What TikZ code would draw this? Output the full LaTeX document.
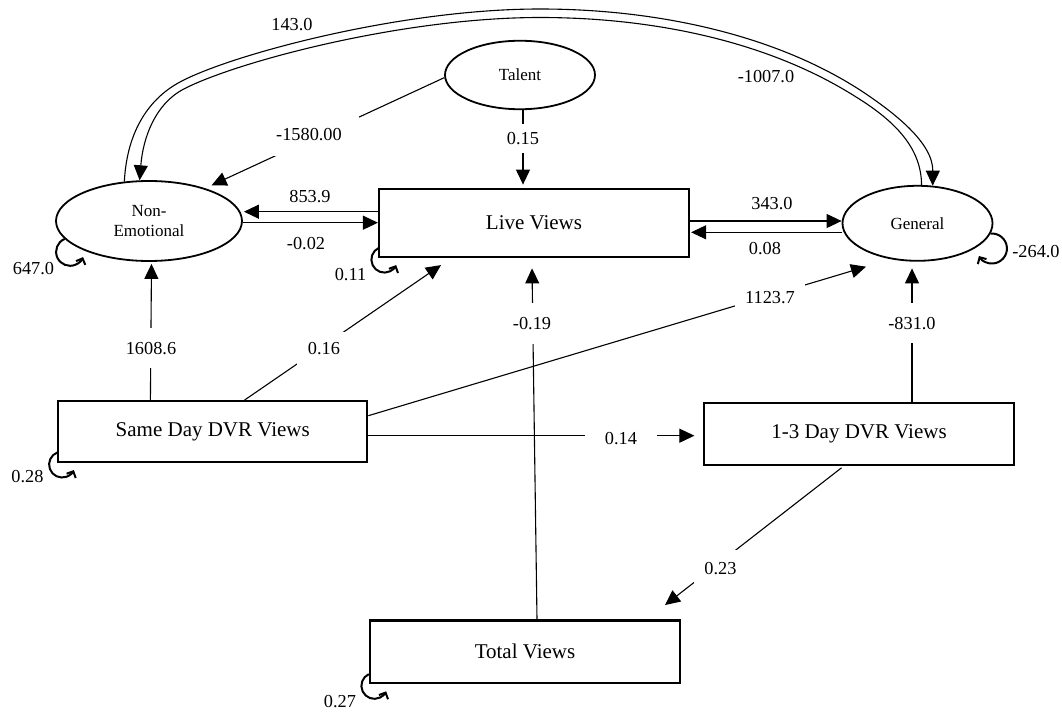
\documentclass[tikz,border=0pt]{standalone}
\usepackage{fontspec}
\setmainfont{Liberation Serif}
\usetikzlibrary{arrows.meta,shapes.geometric,calc}
\begin{document}
\begin{tikzpicture}[x=1pt,y=-1pt,
  box/.style={draw,line width=2.2pt,inner sep=0pt,font=\fontsize{21}{25}\selectfont},
  lat/.style={draw,ellipse,line width=1.8pt,inner sep=0pt,align=center,font=\fontsize{17}{20}\selectfont},
  arr/.style={line width=1.1pt,-{Triangle[length=15pt,width=14pt]}},
  lbl/.style={font=\fontsize{18.3}{22}\selectfont,inner sep=0pt},
  gap/.style={lbl,fill=white,inner xsep=10pt,inner ysep=12pt},
  selfloop/.style={line width=2pt,-{Straight Barb[length=5pt,width=10pt]}}
]
\useasboundingbox (0,0) rectangle (1062,719);

% nodes
\node[lat,minimum width=150pt,minimum height=68.5pt] (talent) at (520,75) {Talent};
\node[lat,minimum width=186pt,minimum height=80pt] (nonemo) at (149,221) {Non-\\Emotional};
\node[lat,minimum width=150pt,minimum height=75pt] (general) at (917.5,223.3) {General};
\node[box,minimum width=310pt,minimum height=68pt] (live) at (534,222.7) {Live Views};
\node[box,minimum width=309pt,minimum height=61pt] (same) at (212.75,431.7) {Same Day DVR Views};
\node[box,minimum width=310pt,minimum height=62pt] (t13) at (859,433.7) {1-3 Day DVR Views};
\node[box,minimum width=310pt,minimum height=62.5pt] (total) at (525,651.7) {Total Views};

% covariance curves
\draw[arr] (nonemo.122) .. controls (127,130) and (150,98) .. (180,82)
  .. controls (230,55) and (400,9) .. (540,9)
  .. controls (650,9) and (770,32) .. (860,90)
  .. controls (895,113) and (933,143) .. (general.68);
\draw[arr] (general.84) .. controls (921.5,145) and (890,118) .. (855.6,96.7)
  .. controls (766,40) and (650,17.5) .. (540,17.5)
  .. controls (402,17.5) and (236,62) .. (183.8,89)
  .. controls (155,104) and (143,138) .. (nonemo.103);

% paths
\draw[arr] (talent.182.5) -- ($(nonemo.30)+(6,-3)$);
\draw[arr] ($(talent.south)+(3,0)$) -- ($(live.north)+(-11,-3)$);
\draw[arr] ($(live.west)+(0,-11)$) -- ($(nonemo.east)+(1,-9.3)$);
\draw[arr] ($(nonemo.east)+(0,1.7)$) -- (live.west);
\draw[arr] ($(live.east)+(0,-1.7)$) -- ($(general.west)+(0,-2.3)$);
\draw[arr] ($(general.west)+(0,9)$) -- ($(live.east)+(1,9.6)$);
\draw[arr] ($(same.north west)+(93.25,0)$) -- ($(nonemo.south)+(2.5,2)$);
\draw[arr] ($(same.north)+(31.75,0)$) -- ($(live.south)+(-93,7.3)$);
\draw[arr] ($(total.north)+(12,0)$) -- ($(live.south)+(-2,10.6)$);
\draw[arr] ($(t13.north)+(53,0)$) -- ($(general.south)+(-5.5,6.7)$);
\draw[arr] ($(same.east)+(0,-16)$) -- ($(general.south)+(-51.5,5)$);
\draw[arr] ($(same.east)+(0,4)$) -- ($(t13.west)+(-8.5,2)$);
\draw[arr] ($(t13.south)+(-17.5,2)$) -- ($(total.north)+(140,-14.3)$);

% self loops
\draw[selfloop] (nonemo.192) arc[start angle=247,end angle=22,radius=14];
\draw[selfloop] ($(live.south west)+(1,-10)$) arc[start angle=245,end angle=25,radius=13];
\draw[selfloop] ($(same.south west)+(0.5,-11)$) arc[start angle=250,end angle=25,radius=13];
\draw[selfloop] ($(total.south west)+(0,-10)$) arc[start angle=245,end angle=25,radius=13];
\draw[selfloop] (general.352) arc[start angle=265,end angle=510,radius=15];

% labels
\node[lbl] (l1) at (292,25) {143.0};
\node[lbl] (l2) at (766,77) {-1007.0};
\node[gap,inner xsep=17pt,inner ysep=15pt] (l3) at (309,135) {-1580.00};
\node[gap,inner ysep=8pt] (l4) at (523,138.3) {0.15};
\node[lbl] (l5) at (310,196.7) {853.9};
\node[lbl] (l6) at (306,243.3) {-0.02};
\node[lbl] (l7) at (772,204) {343.0};
\node[lbl] (l8) at (765,248.3) {0.08};
\node[gap,inner ysep=13.8pt] (l9) at (151,348.3) {1608.6};
\node[gap,inner xsep=10.5pt,inner ysep=10.5pt] (l10) at (324,348.3) {0.16};
\node[gap,inner ysep=13.8pt] (l11) at (532,323.5) {-0.19};
\node[gap,inner ysep=13.8pt] (l12) at (912,323.3) {-831.0};
\node[gap] (l13) at (770,298) {1123.7};
\node[gap,inner xsep=20pt] (l14) at (621,439) {0.14};
\node[gap] (l15) at (720.5,568.3) {0.23};
\node[lbl] (l16) at (33.5,269) {647.0};
\node[lbl] (l17) at (350.5,275) {0.11};
\node[lbl] (l18) at (1036,251.7) {-264.0};
\node[lbl] (l19) at (27.5,477) {0.28};
\node[lbl] (l20) at (340,701.7) {0.27};
\end{tikzpicture}
\end{document}
